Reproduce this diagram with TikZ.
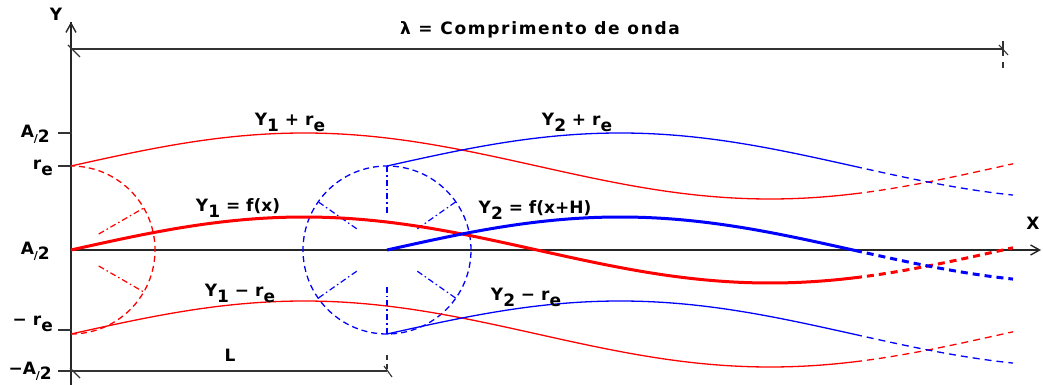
\documentclass[tikz,border=0pt]{standalone}
\usepackage{fontspec}
\setmainfont{DejaVu Sans}
\usetikzlibrary{arrows.meta,positioning}
\newcommand{\lowidx}[1]{\raisebox{-0.35em}{#1}}
\newcommand{\ahalf}{A\raisebox{-0.3em}{{\fontsize{11}{12}\selectfont/}2}}
\tikzset{
      axisline/.style={line width=1.4pt, draw=black!85},
      dimline/.style={line width=1.2pt, draw=black!80},
      tickmark/.style={line width=1.1pt, draw=black!80},
      wavethin/.style={line width=1.3pt},
      wavethick/.style={line width=3pt},
      wavedash/.style={dash pattern=on 7pt off 5pt},
      circdash/.style={line width=1.3pt, dash pattern=on 6pt off 4pt},
      radial/.style={line width=1.2pt, dash pattern=on 6pt off 3pt on 1.5pt off 3pt},
      lbl/.style={font=\fontsize{17}{20}\selectfont\bfseries, inner sep=1pt}
    }

\begin{document}
\begin{tikzpicture}[x=1pt,y=1pt]
    \useasboundingbox (-71,-135) rectangle (972,250);
    % axes
    \coordinate (O) at (0,0);
    \coordinate (ytop) at (0,228);
    \coordinate (ybot) at (0,-135);
    \coordinate (xend) at (970,0);
    \draw[axisline] (ybot) -- (ytop);
    \draw[axisline, -{Straight Barb[length=9pt,width=10pt]}] (O) -- (xend);
    \draw[axisline, -{Straight Barb[length=9pt,width=10pt]}] (0,200) -- (ytop);
    \node[lbl] (yname) at (-15,236) {Y};
    \node[lbl] (xname) at (962,27) {X};
    % wavelength
    \coordinate (lamL) at (0,201);
    \coordinate (lamR) at (932,201);
    \draw[dimline] (lamL) -- (lamR);
    \draw[tickmark] ([shift={(-3,4)}]lamL) -- ([shift={(9,-8)}]lamL);
    \draw[tickmark] ([shift={(-4,4)}]lamR) -- ([shift={(5,-6)}]lamR);
    \draw[tickmark] ([shift={(0,8)}]lamR) -- ([shift={(0,-7)}]lamR);
    \draw[tickmark] ([shift={(0,-13)}]lamR) -- ([shift={(0,-19)}]lamR);
    \node[lbl] (lam) at (469,220) {\addfontfeature{LetterSpace=10}λ = Comprimento de onda};
    % length L
    \coordinate (lenL) at (0,-121);
    \coordinate (lenR) at (316,-121);
    \draw[dimline] (lenL) -- (lenR);
    \draw[tickmark] ([shift={(-1,3)}]lenL) -- ([shift={(9,-7)}]lenL);
    \draw[tickmark] ([shift={(-3,5)}]lenR) -- ([shift={(5,-6)}]lenR);
    \draw[tickmark, dash pattern=on 5pt off 4pt] ([shift={(0,16)}]lenR) -- ([shift={(0,-2)}]lenR);
    \node[lbl] (lenlbl) at (159,-105) {L};
    % ticks on Y
    \foreach \yy in {117,84,-80,-121}
      \draw[tickmark] (-13,\yy) -- (1,\yy);
    \node[lbl, anchor=east] (tA) at (-20,116) {\ahalf};
    \node[lbl, anchor=east] (tR) at (-17,82) {r\lowidx{e}};
    \node[lbl, anchor=east] (tO) at (-20,-1) {\ahalf};
    \node[lbl, anchor=east] (tmR) at (-17,-74) {− r\lowidx{e}};
    \node[lbl, anchor=east] (tmA) at (-18,-121) {−\ahalf};
    % circles
    \coordinate (rc) at (0,0);
    \coordinate (bc) at (316,0);
    \draw[circdash, red] ([shift={(-90:84)}]rc) arc[start angle=-90, end angle=90, radius=84];
    \foreach \a in {30,-30}
      \draw[radial, red] ([shift={(\a:32)}]rc) -- ([shift={(\a:84)}]rc);
    \draw[circdash, blue] (bc) circle[radius=84];
    \foreach \a in {35,90,145,215,270,325}
      \draw[radial, blue] ([shift={(\a:37)}]bc) -- ([shift={(\a:84)}]bc);
    % Y1 waves
    \draw[wavethick, red] plot[domain=0:784, samples=120] (\x, {33*sin(\x/932*360)});
    \draw[wavethick, red, wavedash] plot[domain=784:942, samples=40] (\x, {33*sin(\x/932*360)});
    \draw[wavethin, red] plot[domain=0:784, samples=120] (\x, {84+33*sin(\x/932*360)});
    \draw[wavethin, red, wavedash] plot[domain=784:942, samples=40] (\x, {84+33*sin(\x/932*360)});
    \draw[wavethin, red] plot[domain=0:784, samples=120] (\x, {-84+33*sin(\x/932*360)});
    \draw[wavethin, red, wavedash] plot[domain=784:942, samples=40] (\x, {-84+33*sin(\x/932*360)});
    % Y2 waves
    \draw[wavethick, blue] plot[domain=316:784, samples=100] (\x, {33*sin((\x-316)/932*360)});
    \draw[wavethick, blue, wavedash] plot[domain=784:942, samples=40] (\x, {33*sin((\x-316)/932*360)});
    \draw[wavethin, blue] plot[domain=316:784, samples=100] (\x, {84+33*sin((\x-316)/932*360)});
    \draw[wavethin, blue, wavedash] plot[domain=784:942, samples=40] (\x, {84+33*sin((\x-316)/932*360)});
    \draw[wavethin, blue] plot[domain=316:784, samples=100] (\x, {-84+33*sin((\x-316)/932*360)});
    \draw[wavethin, blue, wavedash] plot[domain=784:942, samples=40] (\x, {-84+33*sin((\x-316)/932*360)});
    % wave labels
    \node[lbl] (y1p) at (219,128) {Y\lowidx{1} + r\lowidx{e}};
    \node[lbl] (y2p) at (506,128) {Y\lowidx{2} + r\lowidx{e}};
    \node[lbl] (y1f) at (167,42) {Y\lowidx{1} = f(x)};
    \node[lbl] (y2f) at (464,40) {Y\lowidx{2} = f(x+H)};
    \node[lbl] (y1m) at (169,-43) {Y\lowidx{1} − r\lowidx{e}};
    \node[lbl] (y2m) at (455,-47) {Y\lowidx{2} − r\lowidx{e}};
\end{tikzpicture}
\end{document}
